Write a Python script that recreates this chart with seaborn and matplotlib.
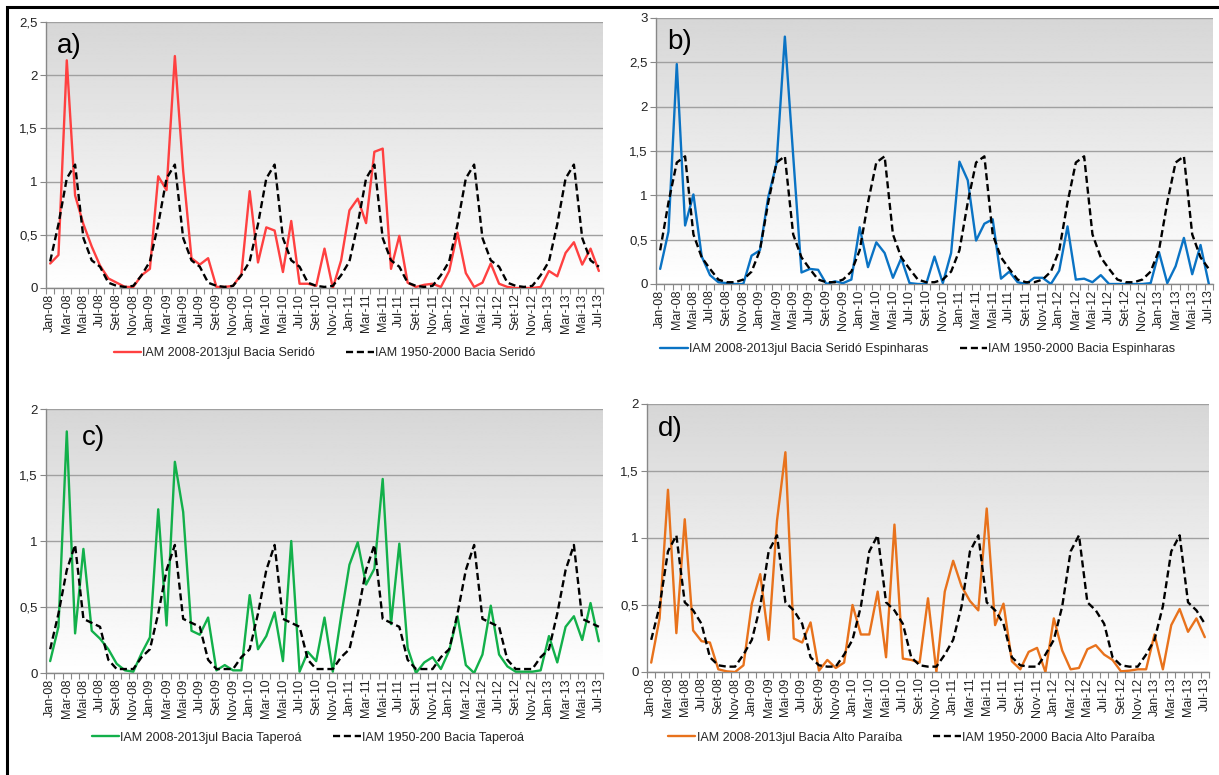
import numpy as np
import matplotlib
matplotlib.use("Agg")
import matplotlib.pyplot as plt
import seaborn as sns
from matplotlib.patches import Rectangle

# months Jan-08 .. Jul-13 (67 months)
meses = ['Jan', 'Fev', 'Mar', 'Abr', 'Mai', 'Jun', 'Jul', 'Ago', 'Set', 'Out', 'Nov', 'Dez']
anos = ['08', '09', '10', '11', '12', '13']
rotulos = [m + '-' + a for a in anos for m in meses][:67]
idx = list(range(67))

# IAM 2008-2013jul (observed)
serido = [0.23, 0.31, 2.14, 0.87, 0.60, 0.39, 0.21, 0.09, 0.05, 0.01, 0.01, 0.12,
          0.18, 1.05, 0.92, 2.18, 1.10, 0.28, 0.22, 0.28, 0.01, 0.01, 0.02, 0.13,
          0.91, 0.24, 0.57, 0.54, 0.15, 0.63, 0.04, 0.04, 0.02, 0.37, 0.00, 0.26,
          0.73, 0.84, 0.61, 1.28, 1.31, 0.18, 0.49, 0.05, 0.01, 0.03, 0.04, 0.01,
          0.16, 0.52, 0.14, 0.01, 0.05, 0.23, 0.04, 0.01, 0.00, 0.00, 0.00, 0.01,
          0.16, 0.11, 0.33, 0.43, 0.22, 0.37, 0.16]
espinharas = [0.17, 0.59, 2.48, 0.66, 1.01, 0.31, 0.10, 0.02, 0.01, 0.00, 0.00, 0.32,
              0.38, 0.98, 1.36, 2.79, 1.45, 0.13, 0.17, 0.16, 0.00, 0.03, 0.01, 0.05,
              0.64, 0.19, 0.47, 0.35, 0.07, 0.29, 0.01, 0.00, 0.00, 0.31, 0.01, 0.35,
              1.38, 1.17, 0.49, 0.68, 0.73, 0.06, 0.14, 0.02, 0.00, 0.07, 0.07, 0.00,
              0.15, 0.65, 0.05, 0.06, 0.02, 0.10, 0.00, 0.00, 0.00, 0.00, 0.00, 0.01,
              0.36, 0.01, 0.20, 0.52, 0.11, 0.44, 0.00]
taperoa = [0.09, 0.35, 1.83, 0.30, 0.94, 0.32, 0.26, 0.18, 0.07, 0.02, 0.01, 0.15,
           0.27, 1.24, 0.36, 1.60, 1.22, 0.32, 0.29, 0.42, 0.02, 0.06, 0.02, 0.02,
           0.59, 0.18, 0.28, 0.46, 0.09, 1.00, 0.01, 0.16, 0.09, 0.42, 0.01, 0.43,
           0.82, 0.99, 0.67, 0.79, 1.47, 0.37, 0.98, 0.19, 0.00, 0.08, 0.12, 0.03,
           0.17, 0.43, 0.06, 0.00, 0.14, 0.51, 0.14, 0.05, 0.01, 0.01, 0.01, 0.02,
           0.28, 0.08, 0.35, 0.43, 0.25, 0.53, 0.24]
alto_paraiba = [0.07, 0.40, 1.36, 0.29, 1.14, 0.31, 0.23, 0.22, 0.02, 0.005, 0.00, 0.05,
                0.51, 0.73, 0.24, 1.13, 1.64, 0.25, 0.22, 0.37, 0.01, 0.09, 0.03, 0.07,
                0.50, 0.28, 0.28, 0.60, 0.11, 1.10, 0.10, 0.09, 0.07, 0.55, 0.00, 0.60,
                0.83, 0.64, 0.53, 0.46, 1.22, 0.35, 0.51, 0.08, 0.02, 0.15, 0.18, 0.00,
                0.40, 0.16, 0.02, 0.03, 0.17, 0.20, 0.13, 0.09, 0.005, 0.01, 0.02, 0.02,
                0.28, 0.02, 0.35, 0.47, 0.30, 0.40, 0.26]

# IAM 1950-2000 (monthly climatology Jan..Dez, repeated every year in the chart)
clim_serido = [0.25, 0.60, 1.03, 1.16, 0.47, 0.26, 0.20, 0.05, 0.02, 0.01, 0.02, 0.12]
clim_espinharas = [0.38, 0.92, 1.37, 1.44, 0.56, 0.30, 0.17, 0.05, 0.02, 0.02, 0.05, 0.14]
clim_taperoa = [0.18, 0.45, 0.78, 0.97, 0.41, 0.38, 0.35, 0.10, 0.03, 0.03, 0.03, 0.12]
clim_alto = [0.24, 0.49, 0.90, 1.02, 0.52, 0.46, 0.36, 0.11, 0.05, 0.04, 0.04, 0.13]

paineis = [
    ('a)', serido, clim_serido, '#ff4040', 'IAM 2008-2013jul Bacia Seridó',
     'IAM 1950-2000 Bacia Seridó', 2.5, [46, 603, 22, 288], (0.02, 0.91), 0.50),
    ('b)', espinharas, clim_espinharas, '#0a73c4', 'IAM 2008-2013jul Bacia Seridó Espinharas',
     'IAM 1950-2000 Bacia Espinharas', 3.0, [656, 1213, 18, 284], (0.02, 0.91), 0.47),
    ('c)', taperoa, clim_taperoa, '#12b04a', 'IAM 2008-2013jul Bacia Taperoá',
     'IAM 1950-200 Bacia Taperoá', 2.0, [46, 603, 409, 673], (0.065, 0.89), 0.47),
    ('d)', alto_paraiba, clim_alto, '#e8721c', 'IAM 2008-2013jul Bacia Alto Paraíba',
     'IAM 1950-2000 Bacia Alto Paraíba', 2.0, [647, 1209, 404, 672], (0.02, 0.905), 0.47),
]

sns.set_style("white")
plt.rcParams['font.family'] = ['Liberation Sans', 'DejaVu Sans']

W, H = 1219, 775
fig = plt.figure(figsize=(W / 100, H / 100), dpi=100)

# background shading: white at the bottom to light grey at the top
grad = np.linspace(1.0, 0.84, 256).reshape(-1, 1)

for letra, obs, clim, cor, lab_obs, lab_clim, ymax, (x0, x1, y0, y1), pos, legx in paineis:
    ax = fig.add_axes([x0 / W, 1 - y1 / H, (x1 - x0) / W, (y1 - y0) / H])
    ax.imshow(grad, extent=[0, 1, 0, 1], transform=ax.transAxes, aspect='auto',
              cmap='gray', vmin=0, vmax=1, origin='lower', zorder=0)
    clim_full = (clim * 6)[:67]
    sns.lineplot(x=idx, y=obs, ax=ax, color=cor, linewidth=1.7, label=lab_obs, zorder=3)
    sns.lineplot(x=idx, y=clim_full, ax=ax, color='black', linewidth=1.7,
                 linestyle=(0, (3, 1.6)), label=lab_clim, zorder=4)
    ax.set_xlim(-0.5, 66.5)
    ax.set_ylim(0, ymax)
    yt = np.arange(0, ymax + 0.01, 0.5)
    ax.set_yticks(yt)
    ax.set_yticklabels([('%g' % v).replace('.', ',') for v in yt], fontsize=9.5, color='#222222')
    ax.yaxis.grid(True, color='#a0a0a0', linewidth=1.0, zorder=1)
    ax.set_axisbelow(True)
    ax.set_xticks(idx[::2])
    ax.set_xticklabels(rotulos[::2], rotation=90, fontsize=9, color='#222222')
    ax.set_xticks(np.arange(-0.5, 67, 1), minor=True)
    ax.tick_params(axis='x', which='major', length=0, pad=4)
    ax.tick_params(axis='x', which='minor', length=4, color='#888888', width=0.8, bottom=True)
    ax.tick_params(axis='y', length=4, color='#888888', left=True, pad=2)
    for s in ['top', 'right']:
        ax.spines[s].set_visible(False)
    for s in ['left', 'bottom']:
        ax.spines[s].set_color('#888888')
        ax.spines[s].set_linewidth(1.0)
    ax.set_xlabel('')
    ax.set_ylabel('')
    ax.text(pos[0], pos[1], letra, transform=ax.transAxes, fontsize=20,
            va='center', ha='left', color='black', zorder=5)
    ax.legend(loc='center', bbox_to_anchor=(legx, -0.245), ncol=2, frameon=False,
              fontsize=9, handlelength=2.2, columnspacing=2.5, handletextpad=0.1)

fig.patches.append(Rectangle((7 / W, -0.02), 1.05, 1 - 7 / H + 0.02, transform=fig.transFigure,
                             fill=False, edgecolor='black', linewidth=2.2))

fig.savefig('out.png', dpi=100)
